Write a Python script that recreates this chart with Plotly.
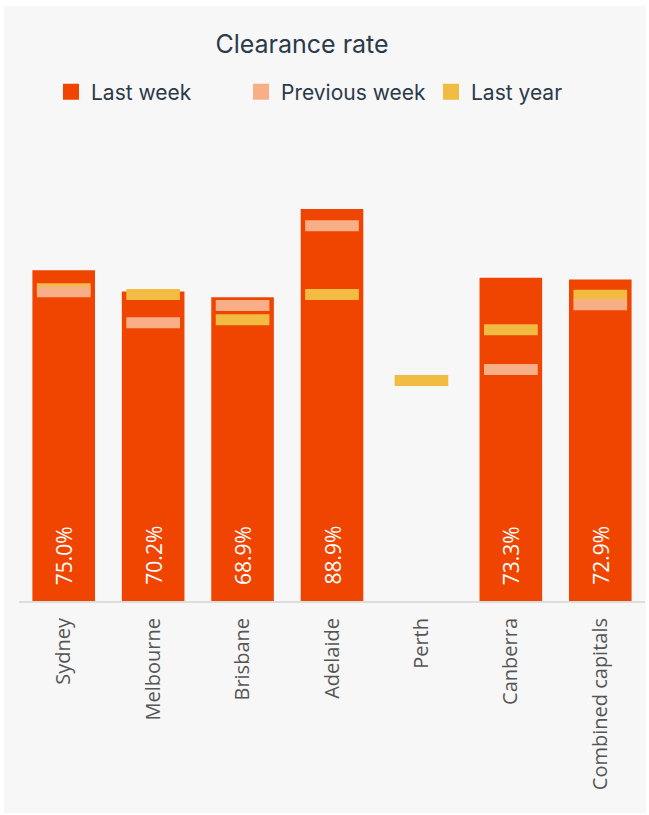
import plotly.graph_objects as go

categories = ["Sydney", "Melbourne", "Brisbane", "Adelaide", "Perth", "Canberra", "Combined capitals"]
last_week = [75.0, 70.2, 68.9, 88.9, None, 73.3, 72.9]
previous_week = [70.1, 63.1, 67.0, 85.1, None, 52.5, 67.2]
last_year = [70.8, 69.5, 63.8, 69.5, 50.0, 61.5, 69.3]

C_LW = "#F04500"
C_PW = "#F8AF87"
C_LY = "#F2BB42"
MARK_H = 2.5  # thickness of marker bars in % units

W, H = 649, 815
L, R, T, B = 19, 4, 160, 214
PW, PH = W - L - R, H - T - B

fig = go.Figure()
fig.add_bar(x=categories, y=last_week, marker=dict(color=C_LW, line=dict(width=0)),
            width=0.7, showlegend=False, hoverinfo="x+y")

def marker_trace(vals, color, name):
    xs = [c for c, v in zip(categories, vals) if v is not None]
    vs = [v for v in vals if v is not None]
    return go.Bar(x=xs, y=[MARK_H] * len(vs), base=[v - MARK_H / 2 for v in vs],
                  marker=dict(color=color, line=dict(width=0)), width=0.6,
                  showlegend=False, name=name, customdata=vs,
                  hovertemplate="%{x}: %{customdata:.1f}%<extra>" + name + "</extra>")

fig.add_trace(marker_trace(last_year, C_LY, "Last year"))
fig.add_trace(marker_trace(previous_week, C_PW, "Previous week"))

# legend entries (square symbols)
for name, color in [("Last week", C_LW), ("Previous week", C_PW), ("Last year", C_LY)]:
    fig.add_scatter(x=[None], y=[None], mode="markers", name=name,
                    marker=dict(symbol="square", size=17, color=color))

# value labels inside bars
for c, v in zip(categories, last_week):
    if v is None:
        continue
    fig.add_annotation(x=c, y=0, text=f"{v:.1f}%", textangle=-90, showarrow=False,
                       yanchor="bottom", yshift=14,
                       font=dict(family="Open Sans", size=21, color="white"))

# card background
fig.add_shape(type="rect", xref="paper", yref="paper", layer="below",
              x0=(4 - L) / PW, x1=(646 - L) / PW,
              y0=(H - B - 813) / PH, y1=(H - B - 6) / PH,
              fillcolor="#F7F7F7", line=dict(width=0))

fig.update_layout(
    width=W, height=H,
    margin=dict(l=L, r=R, t=T, b=B, autoexpand=False),
    paper_bgcolor="white", plot_bgcolor="rgba(0,0,0,0)",
    barmode="overlay", bargap=0.3,
    title=dict(text="Clearance rate", x=302 / W, xanchor="center",
               y=1 - 44 / H, yanchor="middle", yref="container",
               font=dict(family="Inter", size=25, color="#2B3A4A")),
    legend=dict(orientation="h", xref="container", yref="container",
                x=51 / W, xanchor="left", y=1 - 92 / H, yanchor="middle",
                entrywidth=145, entrywidthmode="pixels",
                font=dict(family="Inter", size=21, color="#2B3A4A"),
                bgcolor="rgba(0,0,0,0)", itemclick=False, itemdoubleclick=False),
    xaxis=dict(tickangle=-90, showline=True, linecolor="#DDDDDD", linewidth=2,
               ticks="", showgrid=False, ticklabelstandoff=7,
               tickfont=dict(family="Open Sans", size=20, color="#555555")),
    yaxis=dict(range=[0, 100], visible=False, showgrid=False, zeroline=False),
    font=dict(family="Open Sans"),
)

fig.write_html("out.html", config={"displayModeBar": False},
               post_script="document.body.style.margin='0';")
